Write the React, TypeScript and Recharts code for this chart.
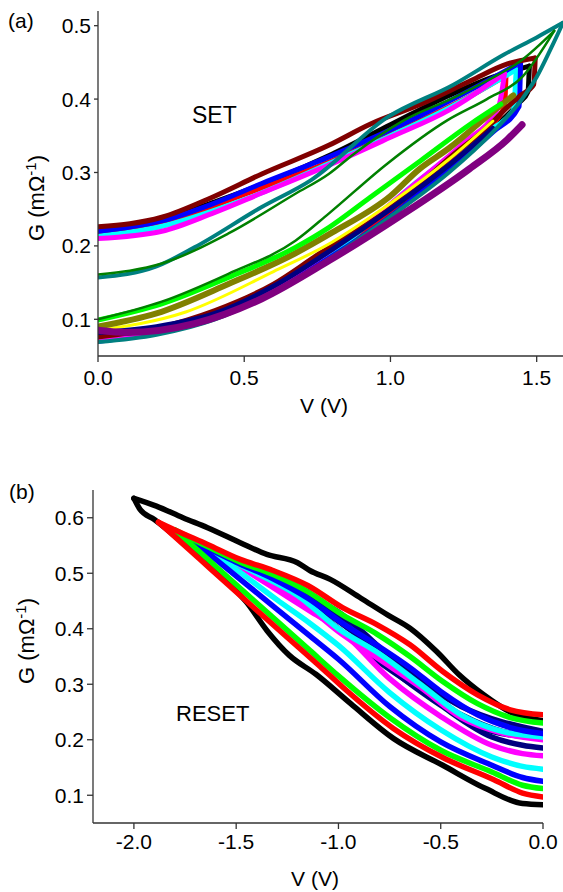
import { LineChart, Line, XAxis, YAxis } from 'recharts'

// (a) SET sweeps: [V, G] pairs, forward branch then return branch
const SET_MAROON = [
  [0, 0.076], [0.2, 0.088], [0.4, 0.112], [0.6, 0.148], [0.76, 0.19], [0.874, 0.218],
  [0.989, 0.248], [1.103, 0.285], [1.217, 0.325], [1.33, 0.361], [1.4, 0.389],
  [1.445, 0.405], [1.49, 0.42], [1.495, 0.456], [1.4, 0.448], [1.274, 0.425],
  [1.103, 0.393], [0.932, 0.366], [0.789, 0.337], [0.56, 0.298], [0.389, 0.266],
  [0.218, 0.239], [0, 0.226],
]
const SET_BLACK = [
  [0, 0.074], [0.2, 0.086], [0.4, 0.11], [0.6, 0.146], [0.8, 0.19], [1.0, 0.245],
  [1.2, 0.31], [1.35, 0.36], [1.44, 0.395], [1.47, 0.41], [1.475, 0.445], [1.35, 0.43],
  [1.2, 0.405], [1.0, 0.365], [0.8, 0.325], [0.6, 0.29], [0.4, 0.26], [0.2, 0.235], [0, 0.222],
]
const SET_BLUE = [
  [0, 0.07], [0.2, 0.082], [0.4, 0.105], [0.6, 0.14], [0.8, 0.186], [1.0, 0.24],
  [1.2, 0.305], [1.35, 0.355], [1.44, 0.39], [1.445, 0.45], [1.3, 0.418], [1.1, 0.377],
  [0.8, 0.323], [0.56, 0.285], [0.39, 0.257], [0.218, 0.234], [0, 0.22],
]
const SET_RED = [
  [0, 0.072], [0.4, 0.107], [0.8, 0.19], [1.1, 0.28], [1.3, 0.35], [1.39, 0.39],
  [1.395, 0.432], [1.3, 0.41], [1.1, 0.37], [0.8, 0.316], [0.5, 0.27], [0.2, 0.228], [0, 0.215],
]
const SET_MAGENTA = [
  [0, 0.073], [0.4, 0.106], [0.8, 0.195], [1.1, 0.29], [1.25, 0.34], [1.37, 0.39],
  [1.39, 0.435], [1.2, 0.385], [1.0, 0.348], [0.789, 0.31], [0.56, 0.272], [0.389, 0.244],
  [0.218, 0.22], [0, 0.21],
]
const SET_CYAN = [
  [0, 0.074], [0.4, 0.108], [0.8, 0.19], [1.1, 0.29], [1.3, 0.35], [1.42, 0.385],
  [1.43, 0.44], [1.2, 0.388], [1.0, 0.35], [0.8, 0.314], [0.5, 0.263], [0.2, 0.225], [0, 0.213],
]
const SET_TEAL = [
  [0, 0.069], [0.2, 0.079], [0.4, 0.1], [0.6, 0.137], [0.8, 0.185], [1.0, 0.24],
  [1.2, 0.3], [1.35, 0.355], [1.45, 0.4], [1.5, 0.43], [1.55, 0.47], [1.59, 0.504],
  [1.5, 0.484], [1.39, 0.461], [1.217, 0.42], [0.989, 0.375], [0.73, 0.29], [0.56, 0.253],
  [0.33, 0.198], [0.2, 0.172], [0, 0.157],
]
const SET_DKGREEN = [
  [0, 0.1], [0.218, 0.124], [0.446, 0.162], [0.675, 0.207], [0.789, 0.244], [0.989, 0.312],
  [1.194, 0.371], [1.33, 0.4], [1.45, 0.43], [1.56, 0.493], [1.445, 0.452], [1.33, 0.425],
  [1.217, 0.402], [1.046, 0.371], [0.874, 0.325], [0.789, 0.298], [0.675, 0.271],
  [0.446, 0.217], [0.218, 0.176], [0, 0.161],
]
const SET_GREEN = [
  [0, 0.099], [0.218, 0.121], [0.446, 0.157], [0.675, 0.198], [0.789, 0.225], [0.93, 0.266],
  [1.103, 0.316], [1.274, 0.366], [1.377, 0.393],
]
const SET_OLIVE = [
  [0, 0.09], [0.2, 0.108], [0.446, 0.148], [0.675, 0.19], [0.8, 0.218], [1.0, 0.268],
  [1.1, 0.305], [1.2, 0.333], [1.35, 0.383], [1.42, 0.405],
]
const SET_YELLOW = [
  [0, 0.085], [0.3, 0.11], [0.6, 0.165], [0.8, 0.205], [1.0, 0.258], [1.2, 0.318], [1.35, 0.37],
]
const SET_NAVY = [
  [0, 0.082], [0.2, 0.09], [0.4, 0.108], [0.6, 0.145], [0.8, 0.195], [1.0, 0.25],
  [1.2, 0.31], [1.35, 0.36],
]
const SET_PURPLE = [
  [0, 0.085], [0.1, 0.082], [0.33, 0.094], [0.56, 0.128], [0.79, 0.18], [1.03, 0.24],
  [1.27, 0.305], [1.4, 0.345], [1.45, 0.365],
]

// (b) RESET sweeps: from 0 V to the negative vertex and back
const RESET_BLACK = [
  [0, 0.234], [-0.16, 0.25], [-0.29, 0.281], [-0.41, 0.317], [-0.52, 0.359], [-0.65, 0.401],
  [-0.76, 0.425], [-0.89, 0.455], [-1.04, 0.489], [-1.14, 0.505], [-1.2, 0.519],
  [-1.35, 0.534], [-1.48, 0.555], [-1.64, 0.582], [-1.76, 0.6], [-1.89, 0.621], [-2.0, 0.635],
  [-1.97, 0.615], [-1.9, 0.597], [-1.72, 0.542], [-1.56, 0.49], [-1.45, 0.448],
  [-1.35, 0.397], [-1.24, 0.352], [-1.11, 0.318], [-0.94, 0.265], [-0.73, 0.202],
  [-0.49, 0.154], [-0.28, 0.112], [-0.1, 0.085], [0, 0.083],
]
const RESET_RED = [
  [0, 0.245], [-0.16, 0.254], [-0.32, 0.281], [-0.49, 0.323], [-0.65, 0.371], [-0.81, 0.407],
  [-0.98, 0.438], [-1.15, 0.478], [-1.32, 0.505], [-1.48, 0.525], [-1.64, 0.552],
  [-1.8, 0.578], [-1.88, 0.592], [-1.84, 0.579], [-1.68, 0.526], [-1.52, 0.473],
  [-1.35, 0.417], [-1.2, 0.368], [-1.09, 0.332], [-0.98, 0.295], [-0.73, 0.22],
  [-0.49, 0.168], [-0.24, 0.128], [-0.1, 0.104], [0, 0.097],
]
const RESET_GREEN = [
  [0, 0.23], [-0.16, 0.24], [-0.32, 0.265], [-0.49, 0.305], [-0.65, 0.35], [-0.81, 0.39],
  [-0.98, 0.425], [-1.15, 0.467], [-1.32, 0.498], [-1.48, 0.52], [-1.64, 0.548],
  [-1.8, 0.578], [-1.72, 0.552], [-1.52, 0.486], [-1.35, 0.43], [-1.14, 0.361], [-1.0, 0.315],
  [-0.75, 0.24], [-0.5, 0.181], [-0.25, 0.142], [-0.1, 0.118], [0, 0.112],
]
const RESET_BLUE = [
  [0, 0.211], [-0.16, 0.222], [-0.32, 0.245], [-0.5, 0.287], [-0.65, 0.33], [-0.81, 0.37],
  [-0.98, 0.41], [-1.15, 0.455], [-1.32, 0.49], [-1.5, 0.52], [-1.71, 0.558],
  [-1.6, 0.525], [-1.45, 0.48], [-1.3, 0.435], [-1.14, 0.387], [-1.0, 0.345],
  [-0.75, 0.26], [-0.5, 0.196], [-0.25, 0.154], [-0.1, 0.132], [0, 0.125],
]
const RESET_CYAN = [
  [0, 0.205], [-0.2, 0.215], [-0.4, 0.245], [-0.6, 0.3], [-0.8, 0.355], [-1.0, 0.4],
  [-1.2, 0.46], [-1.4, 0.5], [-1.61, 0.537], [-1.5, 0.507], [-1.3, 0.452], [-1.14, 0.41],
  [-1.0, 0.37], [-0.75, 0.285], [-0.5, 0.218], [-0.25, 0.169], [-0.1, 0.152], [0, 0.147],
]
const RESET_MAGENTA = [
  [0, 0.2], [-0.2, 0.212], [-0.4, 0.24], [-0.6, 0.295], [-0.8, 0.345], [-1.0, 0.395],
  [-1.2, 0.455], [-1.35, 0.49], [-1.515, 0.52], [-1.4, 0.493], [-1.25, 0.458],
  [-1.14, 0.432], [-1.0, 0.4], [-0.75, 0.31], [-0.5, 0.242], [-0.25, 0.19], [-0.1, 0.175],
  [0, 0.171],
]
const RESET_NAVY = [
  [0, 0.205], [-0.2, 0.215], [-0.4, 0.245], [-0.6, 0.29], [-0.8, 0.34], [-1.0, 0.4],
  [-1.2, 0.46], [-1.4, 0.507], [-1.3, 0.485], [-1.14, 0.45], [-1.0, 0.42], [-0.75, 0.33],
  [-0.5, 0.262], [-0.25, 0.205], [-0.1, 0.19], [0, 0.185],
]
const RESET_NAVY2 = [
  [0, 0.215], [-0.4, 0.26], [-0.8, 0.36], [-1.1, 0.44], [-1.3, 0.49], [-1.2, 0.47],
  [-1.0, 0.43], [-0.75, 0.35], [-0.5, 0.27], [-0.25, 0.215], [0, 0.203],
]

const X_TICKS_A = [0, 0.5, 1.0, 1.5]
const X_MINOR_A = [0.25, 0.75, 1.25]
const Y_TICKS_A = [0.1, 0.2, 0.3, 0.4, 0.5]
const X_TICKS_B = [-2.0, -1.5, -1.0, -0.5, 0]
const X_MINOR_B = [-1.75, -1.25, -0.75, -0.25]
const Y_TICKS_B = [0.1, 0.2, 0.3, 0.4, 0.5, 0.6]
const Y_MINOR_B = [0.15, 0.25, 0.35, 0.45, 0.55]

const FONT = '"Liberation Sans", Arial, sans-serif'
const AXIS = '#333'
const tickStyle = { fill: '#000', fontSize: 21, fontFamily: FONT }

const pts = (a: number[][]) => a.map(([v, g]) => ({ v, g }))
const fmt = (v: number) => v.toFixed(1)

// split a sweep at its turning voltage so each half is monotone in V
function branches(a: number[][], turnAtMax: boolean) {
  let k = 0
  a.forEach(([v], i) => {
    if (turnAtMax ? v > a[k][0] : v < a[k][0]) k = i
  })
  const out = [a.slice(0, k + 1)]
  if (k < a.length - 1) out.push(a.slice(k))
  return out.map(pts)
}

const setSeries: [number[][], string, number][] = [
  [SET_BLACK, '#000000', 5],
  [SET_RED, '#ff0000', 5],
  [SET_CYAN, '#00ffff', 5],
  [SET_BLUE, '#0000ff', 5],
  [SET_MAGENTA, '#ff00ff', 5],
  [SET_MAROON, '#800000', 5],
  [SET_YELLOW, '#ffff00', 3],
  [SET_NAVY, '#000080', 5],
  [SET_OLIVE, '#808000', 6],
  [SET_GREEN, '#00ff00', 5],
  [SET_TEAL, '#008080', 4],
  [SET_PURPLE, '#800080', 7],
  [SET_DKGREEN, '#008000', 2.5],
]

const resetSeries: [number[][], string][] = [
  [RESET_BLACK, '#000000'],
  [RESET_NAVY2, '#000080'],
  [RESET_NAVY, '#000080'],
  [RESET_MAGENTA, '#ff00ff'],
  [RESET_CYAN, '#00ffff'],
  [RESET_BLUE, '#0000ff'],
  [RESET_GREEN, '#00ff00'],
  [RESET_RED, '#ff0000'],
]

const axisLine = { stroke: AXIS, strokeWidth: 1.3 }

function SetChart() {
  return (
    <LineChart width={563} height={430} margin={{ top: 11, right: 0, bottom: 0, left: 0 }}>
      <XAxis
        xAxisId="minor"
        type="number"
        dataKey="v"
        domain={[0, 1.59]}
        ticks={X_MINOR_A}
        interval={0}
        tick={false}
        tickSize={4}
        height={0}
        axisLine={false}
        tickLine={axisLine}
        allowDataOverflow
      />
      <XAxis
        type="number"
        dataKey="v"
        domain={[0, 1.59]}
        ticks={X_TICKS_A}
        interval={0}
        tickFormatter={fmt}
        tick={tickStyle}
        tickSize={6}
        tickMargin={8}
        height={74}
        axisLine={axisLine}
        tickLine={axisLine}
        allowDataOverflow
      />
      <XAxis
        xAxisId="top"
        orientation="top"
        type="number"
        dataKey="v"
        domain={[0, 1.59]}
        tick={false}
        tickLine={false}
        height={0}
        axisLine={axisLine}
      />
      <YAxis
        type="number"
        domain={[0.05, 0.52]}
        ticks={Y_TICKS_A}
        interval={0}
        tickFormatter={fmt}
        tick={tickStyle}
        tickSize={4}
        tickMargin={3}
        width={98}
        axisLine={axisLine}
        tickLine={axisLine}
        allowDataOverflow
      />
      {setSeries.flatMap(([d, c, w], i) =>
        branches(d, true).map((b, j) => (
          <Line
            key={`${i}-${j}`}
            data={b}
            dataKey="g"
            type="monotone"
            stroke={c}
            strokeWidth={w}
            strokeLinejoin="round"
            strokeLinecap="round"
            dot={false}
            activeDot={false}
            isAnimationActive={false}
          />
        )),
      )}
    </LineChart>
  )
}

function ResetChart() {
  return (
    <LineChart width={563} height={452} margin={{ top: 50, right: 20, bottom: 0, left: 0 }}>
      <XAxis
        xAxisId="minor"
        type="number"
        dataKey="v"
        domain={[-2.2, 0]}
        ticks={X_MINOR_B}
        interval={0}
        tick={false}
        tickSize={4}
        height={0}
        axisLine={false}
        tickLine={axisLine}
        allowDataOverflow
      />
      <XAxis
        type="number"
        dataKey="v"
        domain={[-2.2, 0]}
        ticks={X_TICKS_B}
        interval={0}
        tickFormatter={fmt}
        tick={tickStyle}
        tickSize={6}
        tickMargin={5}
        height={69}
        axisLine={axisLine}
        tickLine={axisLine}
        allowDataOverflow
      />
      <XAxis
        xAxisId="top"
        orientation="top"
        type="number"
        dataKey="v"
        domain={[-2.2, 0]}
        tick={false}
        tickLine={false}
        height={0}
        axisLine={axisLine}
      />
      <YAxis
        yAxisId="minor"
        type="number"
        domain={[0.05, 0.65]}
        ticks={Y_MINOR_B}
        interval={0}
        tick={false}
        tickSize={4}
        width={0}
        axisLine={false}
        tickLine={axisLine}
        allowDataOverflow
      />
      <YAxis
        type="number"
        domain={[0.05, 0.65]}
        ticks={Y_TICKS_B}
        interval={0}
        tickFormatter={fmt}
        tick={tickStyle}
        tickSize={6}
        tickMargin={3}
        width={93}
        axisLine={axisLine}
        tickLine={axisLine}
        allowDataOverflow
      />
      <YAxis
        yAxisId="right"
        orientation="right"
        type="number"
        domain={[0.05, 0.65]}
        tick={false}
        tickLine={false}
        width={0}
        axisLine={axisLine}
      />
      {resetSeries.flatMap(([d, c], i) =>
        branches(d, false).map((b, j) => (
          <Line
            key={`${i}-${j}`}
            data={b}
            dataKey="g"
            type="monotone"
            stroke={c}
            strokeWidth={5.5}
            strokeLinejoin="round"
            strokeLinecap="round"
            dot={false}
            activeDot={false}
            isAnimationActive={false}
          />
        )),
      )}
    </LineChart>
  )
}

export default function App() {
  return (
    <div style={{ position: 'absolute', left: 0, top: 0, width: 563, height: 892, background: '#fff' }}>
      <div style={{ position: 'absolute', left: 0, top: 0 }}>
        <SetChart />
      </div>
      <div style={{ position: 'absolute', left: 0, top: 440 }}>
        <ResetChart />
      </div>
      <svg
        width={563}
        height={892}
        style={{ position: 'absolute', left: 0, top: 0, pointerEvents: 'none' }}
        fontFamily={FONT}
      >
        <text x={8} y={28} fontSize={21}>(a)</text>
        <text x={9} y={499} fontSize={21}>(b)</text>
        <text x={192} y={123} fontSize={23}>SET</text>
        <text x={176} y={721} fontSize={22}>RESET</text>
        <text x={324} y={413} fontSize={21} textAnchor="middle">V (V)</text>
        <text x={315} y={886} fontSize={21} textAnchor="middle">V (V)</text>
        <text x={44} y={198} fontSize={22} textAnchor="middle" transform="rotate(-90 44 198)">
          G (mΩ<tspan dy={-8} fontSize={15}>-1</tspan>
          <tspan dy={8}>)</tspan>
        </text>
        <text x={34} y={641} fontSize={22} textAnchor="middle" transform="rotate(-90 34 641)">
          G (mΩ<tspan dy={-8} fontSize={15}>-1</tspan>
          <tspan dy={8}>)</tspan>
        </text>
      </svg>
    </div>
  )
}
